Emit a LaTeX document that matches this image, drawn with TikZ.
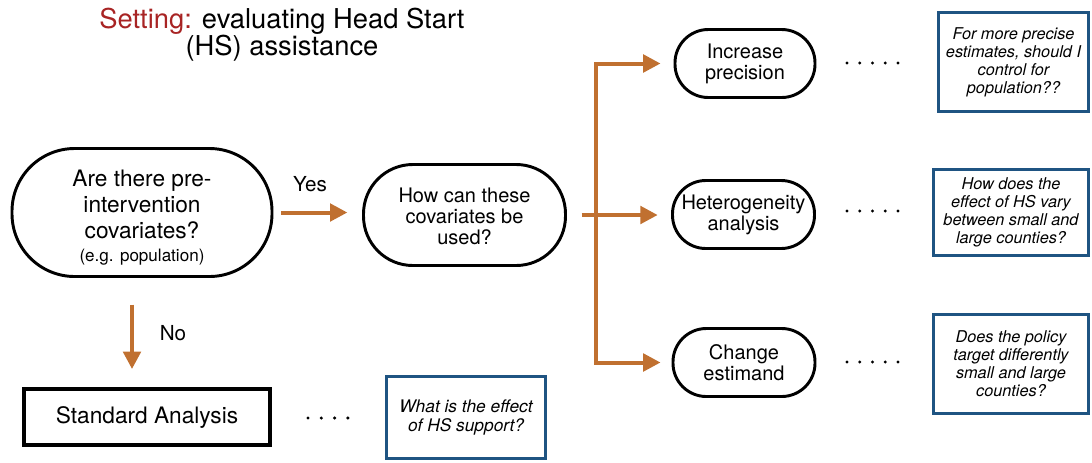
\documentclass[tikz,border=0pt]{standalone}
\usepackage{fontspec}
\setmainfont{TeX Gyre Heros}
\usetikzlibrary{arrows.meta}

\definecolor{flowOrange}{RGB}{192,112,48}
\definecolor{noteBlue}{RGB}{31,84,130}
\definecolor{settingRed}{RGB}{168,36,36}

\tikzset{every picture/.style={line width=0.75pt}}
\tikzset{
	stadium/.style={draw, line width=2.2pt, rounded corners=#1, align=center, inner sep=0pt},
	notebox/.style={draw=noteBlue, line width=2.2pt, align=center, inner sep=0pt},
	flow/.style={draw=flowOrange, line width=3pt, -{Triangle[length=13pt,width=13pt]}},
	lbl/.style={font=\fontsize{15.5}{18}\selectfont}}

\begin{document}
\begin{tikzpicture}[x=0.75pt,y=0.75pt,yscale=-1,xscale=1]
	\useasboundingbox (0,0) rectangle (1092,462);

	% Text Node
	\node [font=\fontsize{20.5}{20}\selectfont, align=center] (title) at (282,35) {\textcolor{settingRed}{Setting:} evaluating Head Start\\(HS) assistance};

	%Shape: Stadium
	\node [stadium=47pt, minimum width=195pt, minimum height=96pt, font=\fontsize{17}{19.5}\selectfont] (cov) at (142,212.5) {\rule{0pt}{20pt}Are there pre-\\intervention\\covariates?\\[-2.5pt]{\fontsize{12.8}{14}\selectfont (e.g. population)}};
	%Shape: Stadium
	\node [stadium=37pt, minimum width=151.5pt, minimum height=75.75pt, font=\fontsize{15}{16}\selectfont] (use) at (464.5,215) {\rule{0pt}{13pt}How can these\\covariates be\\used?};
	%Shape: Stadium
	\node [stadium=25pt, minimum width=105pt, minimum height=51pt, font=\fontsize{15}{15.75}\selectfont] (inc) at (745,63.5) {Increase\\precision};
	%Shape: Stadium
	\node [stadium=25pt, minimum width=106.5pt, minimum height=51pt, font=\fontsize{15}{15.75}\selectfont] (het) at (743.5,214.5) {Heterogeneity\\analysis};
	%Shape: Stadium
	\node [stadium=25pt, minimum width=106.5pt, minimum height=51pt, font=\fontsize{15}{15.75}\selectfont] (chg) at (744,362.5) {Change\\estimand};
	%Shape: Rectangle
	\node [draw, line width=3pt, minimum width=184.5pt, minimum height=42pt, font=\fontsize{17}{20}\selectfont] (std) at (147,417) {Standard Analysis};

	%Shape: Rectangle
	\node [notebox, minimum width=119pt, minimum height=61.5pt, font=\fontsize{13}{14.5}\selectfont\itshape] (nstd) at (466,417.5) {What is the effect\\of HS support?};
	%Shape: Rectangle
	\node [notebox, minimum width=112.5pt, minimum height=74pt, font=\fontsize{12.2}{13.5}\selectfont\itshape] (ninc) at (1013.5,62) {For more precise\\estimates, should I\\control for\\population??};
	%Shape: Rectangle
	\node [notebox, minimum width=116pt, minimum height=64.5pt, font=\fontsize{12.2}{13.5}\selectfont\itshape] (nhet) at (1011,212.5) {How does the\\effect of HS vary\\between small and\\large counties?};
	%Shape: Rectangle
	\node [notebox, minimum width=116pt, minimum height=74pt, font=\fontsize{12.2}{13.5}\selectfont\itshape] (nchg) at (1011,364) {Does the policy\\target differently\\small and large\\counties?};

	% Yes / No
	\draw [flow] ([xshift=6pt]cov.east) -- ([xshift=-11pt]cov.east -| use.west);
	\node [lbl] (yes) at (310,184) {Yes};
	\draw [flow] ([xshift=-7.5pt,yshift=20pt]cov.south) -- ([xshift=-7.5pt,yshift=-13.5pt]cov.south |- std.north);
	\node [lbl] (no) at (173,333) {No};

	% branches
	\coordinate (split) at ([xshift=21.4pt]use.east);
	\draw [flow] ([xshift=11pt]use.east) -- ([xshift=-10pt]use.east -| het.west);
	\draw [flow] (split) |- ([xshift=-9.75pt]inc.west);
	\draw [flow] (split) |- ([xshift=-8.25pt]chg.west);

	% dots
	\foreach \y in {63,211,362} {
		\foreach \i in {0,...,4} \fill (847+12.75*\i,\y) circle (1.7);
	}
	\foreach \i in {0,...,3} \fill (308+13.3*\i,418) circle (1.7);

\end{tikzpicture}
\end{document}
